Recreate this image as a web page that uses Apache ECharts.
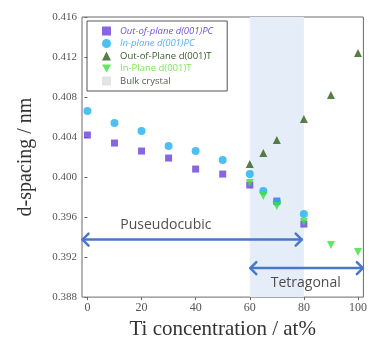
<!DOCTYPE html>
<html>
<head>
<meta charset="utf-8">
<script src="https://cdn.jsdelivr.net/npm/echarts@6/dist/echarts.min.js"></script>
<style>
  html, body { margin: 0; padding: 0; background: #fff; }
  #chart { width: 370px; height: 345px; }
</style>
</head>
<body>
<div id="chart"></div>
<script>
// Ti concentration (at%) vs d-spacing (nm)
const X_PC = [0, 10, 20, 30, 40, 50, 60, 70, 80];
const OUT_PC = [0.4042, 0.4034, 0.4026, 0.4019, 0.4008, 0.4003, 0.3992, 0.3976, 0.3953];
const X_IN_PC = [0, 10, 20, 30, 40, 50, 60, 65, 70, 80];
const IN_PC = [0.4066, 0.4054, 0.4046, 0.4031, 0.4026, 0.4017, 0.4003, 0.3986, 0.3975, 0.3963];
const X_T = [60, 65, 70, 80, 90, 100];
const OUT_T = [0.4013, 0.4024, 0.4037, 0.4058, 0.4082, 0.4124];
const IN_T = [0.3994, 0.3981, 0.3971, 0.3955, 0.3932, 0.3925];
const BULK = [];

const X_TICKS = [0, 20, 40, 60, 80, 100];
const TETRA_BAND = [60, 80];

// arrows: [from x, to x, at d-spacing]
const ARROWS = [[-1.8, 79.2, 0.39375], [60.2, 101.8, 0.3909]];
const ARROW_LABELS = [
  { name: 'Puseudocubic', value: [29, 0.3952] },
  { name: 'Tetragonal', value: [80.7, 0.38945] }
];

const zip = (xs, ys) => xs.map((x, i) => [x, ys[i]]);

const serif = 'Liberation Serif';
const sans = 'Open Sans';
const arrowColor = '#4a78c8';
const downTriangle = 'path://M0,0 L10,0 L5,9 Z';

const chart = echarts.init(document.getElementById('chart'), null, { renderer: 'canvas' });

chart.setOption({
  animation: false,
  backgroundColor: '#fff',
  grid: {
    left: 82, right: 2, top: 17, bottom: 43,
    show: true, borderColor: '#6a6a6a', borderWidth: 1, backgroundColor: 'transparent'
  },
  legend: {
    left: 87, top: 21,
    orient: 'vertical',
    padding: [5, 14, 5, 15],
    itemGap: 2.5,
    itemWidth: 9,
    itemHeight: 9,
    borderColor: '#555',
    borderWidth: 1,
    textStyle: { fontFamily: sans, fontSize: 9.5, padding: [0, 0, 0, 4] },
    data: [
      { name: 'Out-of-plane d(001)PC', textStyle: { color: '#6e4fe0', fontStyle: 'italic' } },
      { name: 'In-plane d(001)PC', textStyle: { color: '#55b2f0', fontStyle: 'italic' } },
      { name: 'Out-of-Plane d(001)T', textStyle: { color: '#3b5a30' } },
      { name: 'In-Plane d(001)T', textStyle: { color: '#7ee85a' } },
      { name: 'Bulk crystal', textStyle: { color: '#556050' } }
    ]
  },
  xAxis: {
    type: 'value',
    min: -2, max: 102,
    name: 'Ti concentration / at%',
    nameLocation: 'middle',
    nameGap: 20,
    nameTextStyle: { fontFamily: serif, fontSize: 21, color: '#333' },
    axisLine: { show: false },
    axisTick: { show: true, length: 3, customValues: X_TICKS, lineStyle: { color: '#6a6a6a' } },
    axisLabel: { customValues: X_TICKS, fontFamily: serif, fontSize: 12, color: '#555', margin: 5 },
    splitLine: { show: false }
  },
  yAxis: {
    type: 'value',
    min: 0.388, max: 0.416, interval: 0.004,
    name: 'd-spacing / nm',
    nameLocation: 'middle',
    nameGap: 46,
    nameTextStyle: { fontFamily: serif, fontSize: 20, color: '#333' },
    axisLine: { show: false },
    axisTick: { show: true, length: 3, lineStyle: { color: '#6a6a6a' } },
    axisLabel: {
      fontFamily: serif, fontSize: 11, color: '#555', margin: 5,
      formatter: (v) => v.toFixed(3)
    },
    splitLine: { show: false }
  },
  series: [
    {
      name: 'Out-of-plane d(001)PC',
      type: 'scatter',
      symbol: 'rect',
      symbolSize: 7,
      itemStyle: { color: '#6a40d8' },
      data: zip(X_PC, OUT_PC),
      markArea: {
        silent: true,
        itemStyle: { color: '#e4edf8' },
        data: [[{ xAxis: TETRA_BAND[0] }, { xAxis: TETRA_BAND[1] }]]
      },
      z: 3
    },
    {
      name: 'In-plane d(001)PC',
      type: 'scatter',
      symbol: 'circle',
      symbolSize: 8,
      itemStyle: { color: '#1eb0ee' },
      data: zip(X_IN_PC, IN_PC),
      z: 4
    },
    {
      name: 'Out-of-Plane d(001)T',
      type: 'scatter',
      symbol: 'triangle',
      symbolSize: 8,
      itemStyle: { color: '#2e5e1a' },
      data: zip(X_T, OUT_T),
      z: 5
    },
    {
      name: 'In-Plane d(001)T',
      type: 'scatter',
      symbol: downTriangle,
      symbolSize: 8,
      itemStyle: { color: '#3ae23a' },
      data: zip(X_T, IN_T),
      z: 6
    },
    {
      name: 'Bulk crystal',
      type: 'scatter',
      symbol: 'rect',
      symbolSize: 8,
      itemStyle: { color: '#dcdcdc' },
      data: BULK
    },
    {
      name: 'arrows',
      type: 'custom',
      clip: false,
      silent: true,
      z: 2,
      data: ARROWS,
      renderItem: (params, api) => {
        const a = api.coord([api.value(0), api.value(2)]);
        const b = api.coord([api.value(1), api.value(2)]);
        const h = 6;
        const st = { stroke: arrowColor, lineWidth: 2.5, fill: null, lineCap: 'round', lineJoin: 'round' };
        return {
          type: 'group',
          children: [
            { type: 'line', shape: { x1: a[0], y1: a[1], x2: b[0], y2: b[1] }, style: st },
            { type: 'polyline', shape: { points: [[a[0] + h, a[1] - h], a, [a[0] + h, a[1] + h]] }, style: st },
            { type: 'polyline', shape: { points: [[b[0] - h, b[1] - h], b, [b[0] - h, b[1] + h]] }, style: st }
          ]
        };
      }
    },
    {
      name: 'labels',
      type: 'scatter',
      symbolSize: 0,
      silent: true,
      z: 2,
      data: ARROW_LABELS,
      label: {
        show: true,
        position: 'inside',
        formatter: '{b}',
        fontFamily: sans,
        fontSize: 14,
        color: '#222'
      }
    }
  ]
});
</script>
</body>
</html>
